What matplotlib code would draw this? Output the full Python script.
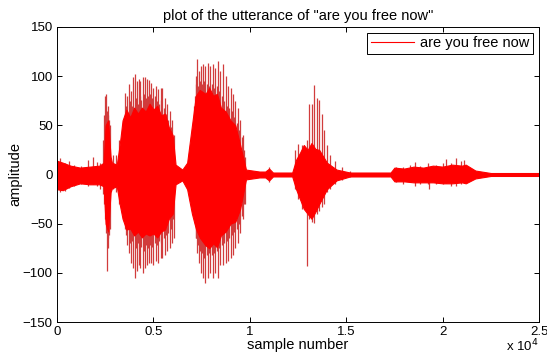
import matplotlib.pyplot as plt
from matplotlib.lines import Line2D

# envelope of the dense part of the waveform (sample number, upper, lower)
env_samples = [0, 300, 700, 1200, 1700, 2200, 2420, 2520, 2650, 2780, 2850, 3100, 3250, 3400,
               3600, 3800, 4000, 4200, 4400, 4600, 4800, 5000, 5200, 5400, 5600,
               5800, 6000, 6150, 6500, 6750, 7000, 7200, 7400, 7700, 7900,
               8100, 8300, 8500, 8750, 9000, 9250, 9500, 9800, 10500, 10800,
               11000, 11200, 12200, 12400, 12600, 12800, 13000, 13200, 13400,
               13600, 14000, 14500, 15200, 17300, 17500, 18000, 18500, 19000,
               19500, 20000, 20500, 21000, 21200, 21700, 22500, 25000]
env_upper = [14, 12, 9, 7, 8, 9, 12, 50, 55, 18, 12, 10, 30, 55,
             66, 58, 68, 62, 68, 64, 72, 66, 70, 60, 62,
             48, 40, 10, 5, 12, 50, 80, 86, 82, 88,
             80, 82, 68, 64, 55, 50, 30, 5, 3, 3,
             6, 2, 2, 15, 22, 30, 25, 32, 26,
             25, 12, 5, 2, 2, 7, 6, 8, 7,
             9, 8, 10, 9, 10, 4, 1.5, 1.5]
env_lower = [-15, -16, -12, -9, -10, -10, -12, -50, -58, -18, -14, -12, -30, -45,
             -56, -55, -62, -58, -64, -60, -62, -60, -64, -58, -56,
             -45, -40, -10, -6, -15, -40, -55, -64, -72, -75,
             -70, -74, -62, -58, -50, -48, -35, -5, -3, -3,
             -6, -2, -2, -15, -25, -35, -40, -45, -38,
             -30, -15, -6, -2, -2, -7, -7, -8, -8,
             -8, -9, -9, -8, -9, -4, -1.5, -1.5]

# individual peaks that stick out (sample number, top, bottom), one list per stretch
spikes_lead = [(150, 17, -18), (400, 12, -17), (600, 14, -14), (900, 10, -12),
               (1250, 9, -10), (1600, 15, -12), (1860, 18, -10), (2100, 13, -12),
               (2250, 12, -15)]
spikes_burst_a = [(2380, 35, -20), (2440, 60, -30), (2490, 80, -45), (2550, 82, -60),
                  (2600, 65, -98), (2630, 60, -75), (2660, 70, -65), (2710, 55, -62),
                  (2750, 50, -55), (2900, 20, -15), (3060, 20, -18), (3200, 35, -30)]
spikes_vowel_1 = [(3540, 83, -55), (3590, 70, -62), (3640, 80, -72), (3720, 92, -80),
                  (3780, 75, -70), (3840, 85, -90), (3900, 70, -68), (3960, 99, -95),
                  (4040, 102, -105), (4090, 78, -75), (4130, 95, -98), (4180, 72, -70),
                  (4230, 97, -92), (4280, 80, -72), (4320, 95, -95), (4380, 76, -74),
                  (4440, 99, -100), (4490, 82, -78), (4540, 99, -95), (4600, 78, -72),
                  (4650, 97, -92), (4700, 80, -75), (4750, 96, -90), (4810, 82, -72),
                  (4870, 93, -90), (4930, 78, -74), (4990, 88, -92), (5060, 80, -70),
                  (5130, 90, -88), (5190, 75, -72), (5250, 87, -90), (5310, 72, -68),
                  (5370, 88, -85), (5420, 76, -70), (5470, 88, -85), (5530, 68, -65),
                  (5590, 78, -82), (5650, 62, -62), (5710, 72, -78), (5780, 55, -60),
                  (5850, 65, -75), (5900, 48, -55), (5950, 55, -70), (6010, 38, -45),
                  (6070, 40, -65)]
spikes_vowel_2 = [(7100, 70, -40), (7150, 80, -50), (7190, 100, -65), (7230, 92, -65),
                  (7280, 117, -80), (7320, 90, -72), (7370, 105, -90), (7430, 95, -78),
                  (7480, 110, -100), (7520, 92, -80), (7570, 112, -105), (7640, 95, -85),
                  (7700, 110, -110), (7760, 92, -82), (7830, 113, -105), (7900, 90, -80),
                  (7960, 110, -100), (8020, 92, -82), (8080, 112, -105), (8150, 88, -80),
                  (8220, 108, -100), (8280, 90, -78), (8340, 115, -105), (8410, 85, -75),
                  (8480, 105, -92), (8540, 80, -72), (8600, 112, -92), (8670, 75, -70),
                  (8740, 100, -90), (8810, 70, -68), (8880, 90, -88), (8940, 68, -65),
                  (9000, 88, -85), (9060, 65, -62), (9120, 82, -82), (9190, 58, -58),
                  (9250, 75, -75), (9310, 52, -55), (9370, 68, -70), (9440, 45, -50),
                  (9510, 55, -60), (9570, 38, -42), (9630, 40, -45), (9700, 25, -30),
                  (9770, 18, -30), (11000, 8, -8)]
spikes_burst_b = [(12340, 25, -15), (12515, 31, -25), (12690, 30, -35), (12945, 35, -93),
                  (13065, 72, -45), (13200, 72, -48), (13340, 91, -49), (13460, 78, -40),
                  (13580, 76, -37), (13720, 62, -33), (13860, 45, -30), (13980, 30, -18),
                  (14150, 20, -15), (14410, 14, -10), (14760, 8, -6), (15190, 4, -3)]
spikes_tail = [(17600, 8, -8), (17950, 8, -10), (18290, 10, -8), (18550, 13, -12),
               (18810, 9, -10), (19240, 12, -10), (19320, 8, -15), (19670, 10, -10),
               (20010, 12, -10), (20190, 16, -9), (20450, 12, -12), (20700, 17, -12),
               (20960, 14, -10), (21130, 15, -8), (21390, 8, -6), (21650, 5, -4)]

x_ticks = [0, 5000, 10000, 15000, 20000, 25000]
x_tick_labels = ['0', '0.5', '1', '1.5', '2', '2.5']
y_ticks = [-150, -100, -50, 0, 50, 100, 150]

spikes = (spikes_lead + spikes_burst_a + spikes_vowel_1 + spikes_vowel_2
          + spikes_burst_b + spikes_tail)
spike_x = [s[0] for s in spikes]
spike_top = [s[1] for s in spikes]
spike_bottom = [s[2] for s in spikes]

plt.rcParams['font.family'] = ['Liberation Sans', 'DejaVu Sans']
fs = 10.5

fig = plt.figure(figsize=(5.47, 3.56), dpi=100)
ax = fig.add_axes([0.1042, 0.0955, 0.8812, 0.8287])

# thin peaks first, dense body on top so only the tips show the darker tone
ax.vlines(spike_x, spike_bottom, spike_top, color='#d13c3c', lw=0.9, zorder=1)
ax.fill_between(env_samples, env_lower, env_upper, color='#ff0000', lw=0.8,
                edgecolor='#ff0000', zorder=2)

ax.set_xlim(0, 25000)
ax.set_ylim(-150, 150)
ax.set_xticks(x_ticks)
ax.set_xticklabels(x_tick_labels)
ax.set_yticks(y_ticks)
ax.tick_params(direction='in', length=3.5, width=0.7, top=True, right=True,
               labelsize=9.5, pad=3)
for sp in ax.spines.values():
    sp.set_linewidth(0.7)

ax.set_title('plot of the utterance of "are you free now"', fontsize=fs, pad=5)
ax.set_xlabel('sample number', fontsize=fs, labelpad=0)
ax.set_ylabel('amplitude', fontsize=fs, labelpad=0)
fig.text(0.925, 0.014, r'x 10$^4$', fontsize=9.5)

handle = Line2D([], [], color='#ff0000', lw=0.8)
leg = ax.legend([handle], ['are you free now'], loc='upper right', fancybox=False,
                edgecolor='black', framealpha=1, handlelength=3.0, borderaxespad=0.4,
                fontsize=fs, borderpad=0.25, handletextpad=0.4)
leg.get_frame().set_linewidth(0.7)

fig.savefig('out.png', dpi=100)
